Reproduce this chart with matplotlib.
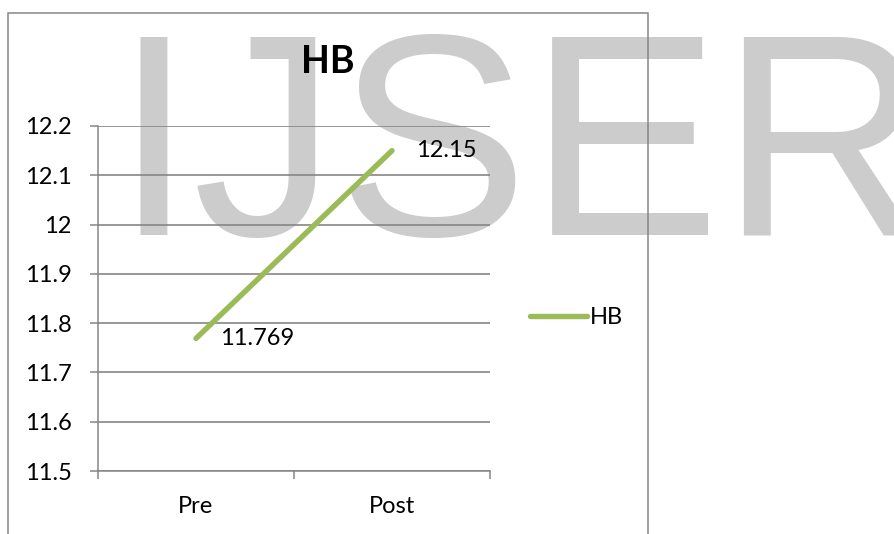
import matplotlib.pyplot as plt
from matplotlib.patches import Rectangle

# data
categories = ['Pre', 'Post']
hb_values = [11.769, 12.15]
value_labels = ['11.769', '12.15']
y_ticks = [11.5, 11.6, 11.7, 11.8, 11.9, 12.0, 12.1, 12.2]
y_tick_labels = ['11.5', '11.6', '11.7', '11.8', '11.9', '12', '12.1', '12.2']

W, H = 894, 534
green = '#9BBB59'
grid_gray = '#868686'
font = 'Lato'

fig = plt.figure(figsize=(W / 100, H / 100), dpi=100)
fig.patch.set_facecolor('white')

# watermark behind everything
fig.text(113 / W, 1 - 235 / H, 'IJSER', fontsize=207, color='#CCCCCC',
         family='Liberation Sans', ha='left', va='baseline', zorder=-5)

# chart border (bottom edge is cut off)
fig.add_artist(Rectangle((8 / W, -0.1), 640 / W, 0.1 + 1 - 13 / H,
                         transform=fig.transFigure, fill=False,
                         edgecolor=grid_gray, lw=1.1, zorder=1))

ax = fig.add_axes([98 / W, 1 - 471 / H, 392 / W, 345 / H])
ax.patch.set_alpha(0)

x = [0.5, 1.5]
ax.plot(x, hb_values, color=green, lw=3.9, solid_capstyle='round', label='HB', zorder=3)
for xi, v, lab in zip(x, hb_values, value_labels):
    ax.annotate(lab, (xi, v), xytext=(17, 0), textcoords='offset points',
                ha='left', va='center', fontsize=17, family=font, color='black')

ax.set_xlim(0, 2)
ax.set_ylim(11.5, 12.2)
ax.set_yticks(y_ticks)
ax.set_yticklabels(y_tick_labels, fontsize=17, family=font)
ax.set_xticks(x)
ax.set_xticklabels(categories, fontsize=17, family=font)
ax.set_xticks([0, 1, 2], minor=True)
ax.tick_params(axis='x', which='major', length=0, pad=18)
ax.tick_params(axis='x', which='minor', length=6, width=1.1, color=grid_gray)
ax.tick_params(axis='y', length=6, width=1.1, color=grid_gray, pad=13)
ax.grid(axis='y', color=grid_gray, lw=1.2)
ax.set_axisbelow(True)
for s in ['top', 'right']:
    ax.spines[s].set_visible(False)
for s in ['left', 'bottom']:
    ax.spines[s].set_color(grid_gray)
    ax.spines[s].set_linewidth(1.1)

fig.text(328 / W, 1 - 62 / H, 'HB', fontsize=27, fontweight='bold', family=font,
         ha='center', va='center')

leg = ax.legend(loc='center left', bbox_to_anchor=(530 / W, 1 - 318 / H),
                bbox_transform=fig.transFigure, frameon=False, borderpad=0,
                borderaxespad=0, handlelength=2.4, handletextpad=0.15,
                prop={'family': font, 'size': 17})

fig.savefig('out.png', dpi=100)
